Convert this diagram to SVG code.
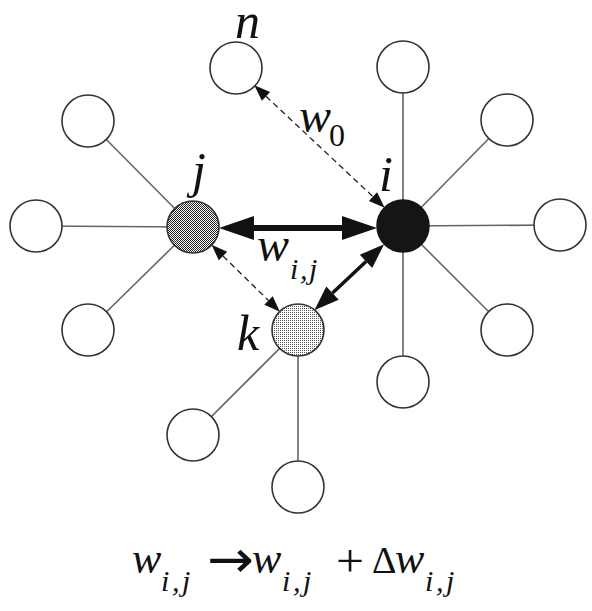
<svg xmlns="http://www.w3.org/2000/svg" width="592" height="611" viewBox="0 0 592 611">
<style>
.node{fill:#fff;stroke:#333;stroke-width:1.6}
.edge{stroke:#666;stroke-width:1.6;fill:none}
.lbl{font-family:"Liberation Serif","Times New Roman",serif;font-style:italic;fill:#111}
.up{font-family:"Liberation Serif","Times New Roman",serif;font-style:normal;fill:#111}
.sym{font-family:"DejaVu Sans",sans-serif;font-style:normal;fill:#111}
.dash{stroke:#222;stroke-width:1.3;stroke-dasharray:6 4;fill:none}
</style>
<defs>
<pattern id="checker" width="2" height="2" patternUnits="userSpaceOnUse">
<rect width="2" height="2" fill="#fff"/>
<rect width="1" height="1" fill="#222"/>
<rect x="1" y="1" width="1" height="1" fill="#222"/>
</pattern>
<pattern id="dots" width="2" height="2" patternUnits="userSpaceOnUse">
<rect width="2" height="2" fill="#fff"/>
<rect width="1" height="1" fill="#555"/>
</pattern>
<marker id="bigHead" markerUnits="userSpaceOnUse" markerWidth="40" markerHeight="30" refX="0" refY="12" orient="auto-start-reverse" viewBox="0 0 40 24" overflow="visible">
<path d="M0,0 L35,12 L0,24 Z" fill="#111"/>
</marker>
<marker id="midHead" markerUnits="userSpaceOnUse" markerWidth="30" markerHeight="20" refX="0" refY="9" orient="auto-start-reverse" viewBox="0 0 30 18" overflow="visible">
<path d="M0,0 L25,9 L0,18 Z" fill="#111"/>
</marker>
<marker id="smallHead" markerUnits="userSpaceOnUse" markerWidth="20" markerHeight="12" refX="0" refY="6" orient="auto-start-reverse" viewBox="0 0 20 12" overflow="visible">
<path d="M0,0 L16,6 L0,12 Z" fill="#111"/>
</marker>
</defs>

<g id="edges">
<line class="edge" x1="403" y1="226" x2="403" y2="67"/>
<line class="edge" x1="403" y1="226" x2="507" y2="120"/>
<line class="edge" x1="403" y1="226" x2="560" y2="225"/>
<line class="edge" x1="403" y1="226" x2="507" y2="330"/>
<line class="edge" x1="403" y1="226" x2="403" y2="382"/>
<line class="edge" x1="193" y1="227" x2="88" y2="121"/>
<line class="edge" x1="193" y1="227" x2="36" y2="226"/>
<line class="edge" x1="193" y1="227" x2="88" y2="330"/>
<line class="edge" x1="298" y1="330" x2="193" y2="435"/>
<line class="edge" x1="298" y1="330" x2="298" y2="487"/>
</g>

<g id="connectors">
<line x1="254" y1="228" x2="342" y2="228" stroke="#111" stroke-width="6" marker-start="url(#bigHead)" marker-end="url(#bigHead)"/>
<line x1="366" y1="261.4" x2="332.5" y2="293.1" stroke="#111" stroke-width="3.5" marker-start="url(#midHead)" marker-end="url(#midHead)"/>
<line class="dash" x1="223" y1="256" x2="268.5" y2="300.5" marker-start="url(#smallHead)" marker-end="url(#smallHead)"/>
<line class="dash" x1="266" y1="96.3" x2="373" y2="196.7" marker-start="url(#smallHead)" marker-end="url(#smallHead)"/>
</g>

<g id="node-n"><circle class="node" cx="236" cy="68" r="26"/></g>
<g id="node-i-top"><circle class="node" cx="403" cy="67" r="26"/></g>
<g id="node-i-ur"><circle class="node" cx="507" cy="120" r="26"/></g>
<g id="node-i-r"><circle class="node" cx="560" cy="225" r="26"/></g>
<g id="node-i-lr"><circle class="node" cx="507" cy="330" r="26"/></g>
<g id="node-i-b"><circle class="node" cx="403" cy="382" r="26"/></g>
<g id="node-j-ul"><circle class="node" cx="88" cy="121" r="26"/></g>
<g id="node-j-l"><circle class="node" cx="36" cy="226" r="26"/></g>
<g id="node-j-ll"><circle class="node" cx="88" cy="330" r="26"/></g>
<g id="node-k-ll"><circle class="node" cx="193" cy="435" r="26"/></g>
<g id="node-k-b"><circle class="node" cx="298" cy="487" r="26"/></g>
<g id="node-i"><circle cx="403" cy="226" r="26" fill="#151515" stroke="#151515" stroke-width="1.5"/></g>
<g id="node-j"><circle cx="193" cy="227" r="26" fill="url(#checker)" stroke="#333" stroke-width="1.6"/></g>
<g id="node-k"><circle cx="298" cy="330" r="26" fill="url(#dots)" stroke="#333" stroke-width="1.6"/></g>

<g id="labels">
<text class="lbl" x="235" y="38" font-size="50">n</text>
<text class="lbl" x="379" y="191" font-size="50">i</text>
<text class="lbl" x="192" y="187" font-size="50">j</text>
<text class="lbl" x="237" y="350" font-size="50">k</text>
<text class="lbl" x="299" y="132" font-size="48">w</text>
<text class="up" x="329" y="146" font-size="32">0</text>
<text class="lbl" x="257" y="261" font-size="48">w</text>
<text class="lbl" font-size="30" y="279"><tspan x="290">i</tspan><tspan x="300">,</tspan><tspan x="309">j</tspan></text>
</g>

<g id="formula">
<text class="lbl" x="132" y="573" font-size="44">w</text>
<text class="lbl" font-size="30" y="591"><tspan x="161">i</tspan><tspan x="172">,</tspan><tspan x="182">j</tspan></text>
<text class="sym" x="207" y="577" font-size="52" textLength="47" lengthAdjust="spacingAndGlyphs">→</text>
<text class="lbl" x="252" y="573" font-size="44">w</text>
<text class="lbl" font-size="30" y="591"><tspan x="282">i</tspan><tspan x="293">,</tspan><tspan x="303">j</tspan></text>
<text class="up" x="336" y="576" font-size="46" textLength="28" lengthAdjust="spacingAndGlyphs">+</text>
<text class="up" x="372" y="573" font-size="38">Δ</text>
<text class="lbl" x="395" y="573" font-size="44">w</text>
<text class="lbl" font-size="30" y="591"><tspan x="425">i</tspan><tspan x="436">,</tspan><tspan x="446">j</tspan></text>
</g>
</svg>
